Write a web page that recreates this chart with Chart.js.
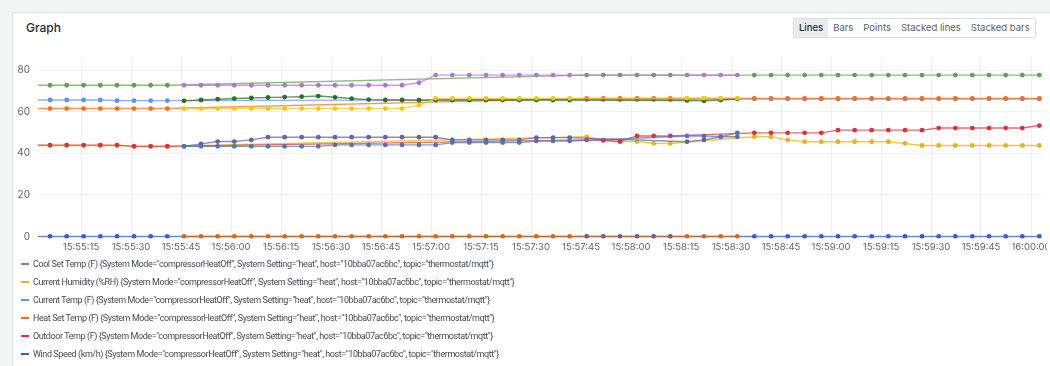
<!DOCTYPE html>
<html>
<head>
<meta charset="utf-8">
<title>Graph</title>
<script src="https://cdn.jsdelivr.net/npm/chart.js@4.4.0/dist/chart.umd.min.js"></script>
<style>
  html, body { margin: 0; padding: 0; width: 1050px; height: 366px; overflow: hidden; background: #f4f5f5; font-family: Inter, Roboto, sans-serif; }
  .panel { position: absolute; left: 12px; top: 12px; width: 1060px; height: 380px; background: #fff; border: 1px solid #e3e6e8; border-radius: 2px; }
  .title { position: absolute; left: 26px; top: 21px; font-size: 12px; line-height: 14px; font-weight: 500; color: #24292e; }
  .modes { position: absolute; left: 793px; top: 18px; height: 18px; border: 1px solid #dcdfe2; border-radius: 2px; display: flex; font-size: 9.5px; line-height: 18px; color: #5b5f66; }
  .modes span { padding: 0 5px; }
  .modes span.on { background: #e9ebed; color: #24292e; font-weight: 500; }
  .clip { position: absolute; left: 0; top: 0; width: 1047px; height: 366px; overflow: hidden; }
  .chart-box { position: absolute; left: 0; top: 43px; width: 1070px; height: 215px; }
  .legend { position: absolute; left: 21px; top: 255px; font-family: Roboto, sans-serif; font-size: 9px; letter-spacing: -0.42px; color: #464b52; }
  .legend div { height: 18px; line-height: 18px; white-space: nowrap; }
  .legend i { display: inline-block; width: 8px; height: 2px; margin-right: 4px; vertical-align: middle; position: relative; top: -1px; }
</style>
</head>
<body>
<div class="panel"></div>
<div class="title">Graph</div>
<div class="modes"><span class="on">Lines</span><span>Bars</span><span>Points</span><span>Stacked lines</span><span>Stacked bars</span></div>
<div class="clip"><div class="chart-box"><canvas id="graph"></canvas></div></div>
<div class="legend" id="legend"></div>
<script>
const _ = null;

// sample times, seconds after 15:55:00
const times = [
  0.7, 5.7, 10.7, 15.8, 20.8, 25.8, 30.9, 35.9, 40.9,
  45.9, 51.0, 56.0, 61.0, 66.1, 71.1, 76.1, 81.2, 86.2, 91.2,
  96.2, 101.3, 106.3, 111.3, 116.4, 121.4, 126.4, 131.5, 136.5, 141.5,
  146.5, 151.6, 156.6, 161.6, 166.7, 171.7, 176.7, 181.8, 186.8, 191.8,
  196.8, 201.9, 206.9, 211.9, 217.0, 222.0, 227.0, 232.1, 237.1, 242.1,
  247.1, 252.2, 257.2, 262.2, 267.3, 272.3, 277.3, 282.4, 287.4, 292.4,
  297.4, 302.5
];

const xTickLabels = ['15:55:15', '15:55:30', '15:55:45', '15:56:00', '15:56:15', '15:56:30', '15:56:45',
  '15:57:00', '15:57:15', '15:57:30', '15:57:45', '15:58:00', '15:58:15', '15:58:30', '15:58:45',
  '15:59:00', '15:59:15', '15:59:30', '15:59:45', '16:00:00'];
const yTicks = [0, 20, 40, 60, 80];

// compressorHeatOff series
const coolSetA = [
  72.8, 72.8, 72.8, 72.8, 72.8, 72.8, 72.8, 72.8, 72.8,
  _, _, _, _, _, _, _, _, _, _,
  _, _, _, _, _, _, _, _, _, _,
  _, _, _, _, 77.7, 77.7, 77.7, 77.7, 77.7, 77.7,
  _, _, _, _, 77.7, 77.7, 77.7, 77.7, 77.7, 77.7,
  77.7, 77.7, 77.7, 77.7, 77.7, 77.7, 77.7, 77.7, 77.7, 77.7,
  77.7, 77.7
];
const humidityA = [
  43.8, 43.8, 43.8, 43.8, 43.8, 43.8, 43.5, 43.5, 43.5,
  _, _, _, _, _, _, _, _, _, _,
  _, _, _, _, _, _, _, _, _, _,
  _, _, _, _, 48.0, 46.3, 45.7, 45.7, 44.8, 44.8,
  _, _, _, _, 48.0, 48.0, 46.5, 45.6, 45.6, 45.6,
  45.6, 45.6, 45.6, 44.8, 43.8, 43.8, 43.8, 43.8, 43.8, 43.8,
  43.8, 43.8
];
const currentTempA = [
  65.7, 65.7, 65.7, 65.7, 65.7, 65.4, 65.4, 65.4, 65.4,
  _, _, _, _, _, _, _, _, _, _,
  _, _, _, _, _, _, _, _, _, _,
  _, _, _, _, 65.9, 65.9, 65.9, 65.9, 65.9, 65.9,
  _, _, _, _, 66.2, 66.2, 66.2, 66.2, 66.2, 66.2,
  66.2, 66.2, 66.2, 66.2, 66.2, 66.2, 66.2, 66.2, 66.2, 66.2,
  66.2, 66.2
];
const heatSetA = [
  61.6, 61.6, 61.6, 61.6, 61.6, 61.6, 61.6, 61.6, 61.6,
  _, _, _, _, _, _, _, _, _, _,
  _, _, _, _, _, _, _, _, _, _,
  _, _, _, _, 66.5, 66.5, 66.5, 66.5, 66.5, 66.5,
  _, _, _, _, 66.5, 66.5, 66.5, 66.5, 66.5, 66.5,
  66.5, 66.5, 66.5, 66.5, 66.5, 66.5, 66.5, 66.5, 66.5, 66.5,
  66.5, 66.5
];
const outdoorA = [
  44.0, 44.0, 44.0, 44.0, 44.0, 44.0, 43.4, 43.4, 43.4,
  _, _, _, _, _, _, _, _, _, _,
  _, _, _, _, _, _, _, _, _, _,
  _, _, _, _, 46.5, 46.3, 45.7, 48.4, 48.4, 48.4,
  _, _, _, _, 49.9, 49.9, 49.9, 49.9, 49.9, 51.2,
  51.2, 51.2, 51.2, 51.2, 51.2, 52.2, 52.2, 52.2, 52.2, 52.2,
  52.2, 53.4
];
const windA = [
  0, 0, 0, 0, 0, 0, 0, 0, 0,
  _, _, _, _, _, _, _, _, _, _,
  _, _, _, _, _, _, _, _, _, _,
  _, _, _, _, 0, 0, 0, 0, 0, 0,
  _, _, _, _, 0, 0, 0, 0, 0, 0,
  0, 0, 0, 0, 0, 0, 0, 0, 0, 0,
  0, 0
];

// second system mode series
const coolSetB = [
  _, _, _, _, _, _, _, _, _,
  72.8, 72.8, 72.8, 72.8, 72.8, 72.8, 72.8, 72.8, 72.8, 72.8,
  72.8, 72.8, 72.8, 72.8, 74.0, 77.7, 77.7, 77.7, 77.7, 77.7,
  77.7, 77.7, 77.7, 77.7, _, _, _, _, _, _,
  77.7, 77.7, 77.7, 77.7, _, _, _, _, _, _,
  _, _, _, _, _, _, _, _, _, _,
  _, _
];
const humidityB = [
  _, _, _, _, _, _, _, _, _,
  43.4, 44.6, 45.7, 45.7, 46.5, 47.8, 47.8, 47.8, 47.8, 47.8,
  47.8, 47.8, 47.8, 47.8, 47.8, 47.8, 46.5, 46.5, 46.5, 46.5,
  46.5, 47.6, 47.6, 47.6, _, _, _, _, _, _,
  45.6, 46.5, 48.0, 48.0, _, _, _, _, _, _,
  _, _, _, _, _, _, _, _, _, _,
  _, _
];
const currentTempB = [
  _, _, _, _, _, _, _, _, _,
  65.3, 65.7, 66.1, 66.4, 66.7, 66.9, 67.1, 67.3, 67.6, 67.0,
  66.4, 65.9, 65.7, 65.7, 65.6, 65.7, 65.7, 65.7, 65.7, 65.7,
  65.7, 65.7, 65.7, 65.7, _, _, _, _, _, _,
  65.5, 65.3, 65.7, 66.2, _, _, _, _, _, _,
  _, _, _, _, _, _, _, _, _, _,
  _, _
];
const heatSetB = [
  _, _, _, _, _, _, _, _, _,
  61.6, 61.6, 61.6, 61.6, 61.6, 61.6, 61.6, 61.6, 61.6, 61.6,
  61.6, 61.6, 61.6, 61.6, 63.2, 66.5, 66.5, 66.5, 66.5, 66.5,
  66.5, 66.5, 66.5, 66.5, _, _, _, _, _, _,
  66.6, 66.6, 66.6, 66.6, _, _, _, _, _, _,
  _, _, _, _, _, _, _, _, _, _,
  _, _
];
const outdoorB = [
  _, _, _, _, _, _, _, _, _,
  43.4, 43.4, 43.4, 43.4, 43.4, 43.4, 43.4, 43.4, 43.4, 44.1,
  44.1, 44.1, 44.1, 44.1, 44.1, 44.1, 45.2, 45.2, 45.2, 45.2,
  45.2, 46.0, 46.0, 46.0, _, _, _, _, _, _,
  48.4, 48.4, 48.0, 49.9, _, _, _, _, _, _,
  _, _, _, _, _, _, _, _, _, _,
  _, _
];
const windB = [
  _, _, _, _, _, _, _, _, _,
  0, 0, 0, 0, 0, 0, 0, 0, 0, 0,
  0, 0, 0, 0, 0, 0, 0, 0, 0, 0,
  0, 0, 0, 0, _, _, _, _, _, _,
  0, 0, 0, 0, _, _, _, _, _, _,
  _, _, _, _, _, _, _, _, _, _,
  _, _
];

const names = ['Cool Set Temp (F)', 'Current Humidity (%RH)', 'Current Temp (F)', 'Heat Set Temp (F)', 'Outdoor Temp (F)', 'Wind Speed (km/h)'];
const tags = '{System Mode="compressorHeatOff", System Setting="heat", host="10bba07ac6bc", topic="thermostat/mqtt"}';

// "HH:MM:SS" -> seconds after 15:55:00
function toSec(s) {
  const p = s.split(':').map(Number);
  return (p[0] - 15) * 3600 + (p[1] - 55) * 60 + p[2];
}
const xTickValues = xTickLabels.map(toSec);

function series(label, values, color, order) {
  return {
    label: label,
    order: order,
    data: values.map((v, i) => ({ x: times[i], y: v })),
    borderColor: color + 'b8',
    backgroundColor: color,
    pointBackgroundColor: color,
    pointBorderWidth: 0,
    pointRadius: 2.4,
    borderWidth: 1.4,
    spanGaps: true,
    tension: 0
  };
}

const main = [
  series(names[0], coolSetA, '#5aa64e', 9),
  series(names[1], humidityA, '#e5b60c', 10),
  series(names[2], currentTempA, '#5b93ee', 11),
  series(names[3], heatSetA, '#f2711c', 7),
  series(names[4], outdoorA, '#e0303f', 6),
  series(names[5], windA, '#2f63c8', 8)
];
const other = [
  series(names[0] + ' #2', coolSetB, '#b374d6', 5),
  series(names[1] + ' #2', humidityB, '#6a5fa8', 2),
  series(names[2] + ' #2', currentTempB, '#2f6d26', 4),
  series(names[3] + ' #2', heatSetB, '#efc910', 3),
  series(names[4] + ' #2', outdoorB, '#4f76b4', 1),
  series(names[5] + ' #2', windB, '#cf6a1f', 0)
];

const tickFont = { family: 'Inter, Roboto, sans-serif', size: 9.5 };

new Chart(document.getElementById('graph'), {
  type: 'line',
  data: { datasets: main.concat(other) },
  options: {
    responsive: true,
    maintainAspectRatio: false,
    animation: false,
    layout: { padding: { left: 8, right: 28, top: 6, bottom: 2 } },
    plugins: { legend: { display: false }, tooltip: { enabled: false } },
    scales: {
      x: {
        type: 'linear',
        min: 2.1,
        max: 303.3,
        afterBuildTicks: axis => { axis.ticks = xTickValues.map(v => ({ value: v })); },
        ticks: {
          autoSkip: false, maxRotation: 0, padding: 3, color: '#5f6368', font: tickFont,
          callback: (v) => xTickLabels[xTickValues.indexOf(v)]
        },
        grid: { color: '#f0f0f0', drawTicks: false },
        border: { display: false }
      },
      y: {
        min: -1,
        max: 86.4,
        afterBuildTicks: axis => { axis.ticks = yTicks.map(v => ({ value: v })); },
        afterFit: axis => { axis.width = 30; },
        ticks: { padding: 8, color: '#5f6368', font: { family: 'Inter, Roboto, sans-serif', size: 10 } },
        grid: { color: '#f0f0f0', drawTicks: false },
        border: { display: false }
      }
    }
  }
});

// legend lists only the compressorHeatOff series
const legend = document.getElementById('legend');
main.forEach(ds => {
  const row = document.createElement('div');
  const sw = document.createElement('i');
  sw.style.background = ds.backgroundColor;
  row.appendChild(sw);
  row.appendChild(document.createTextNode(ds.label + ' ' + tags));
  legend.appendChild(row);
});
</script>
</body>
</html>
